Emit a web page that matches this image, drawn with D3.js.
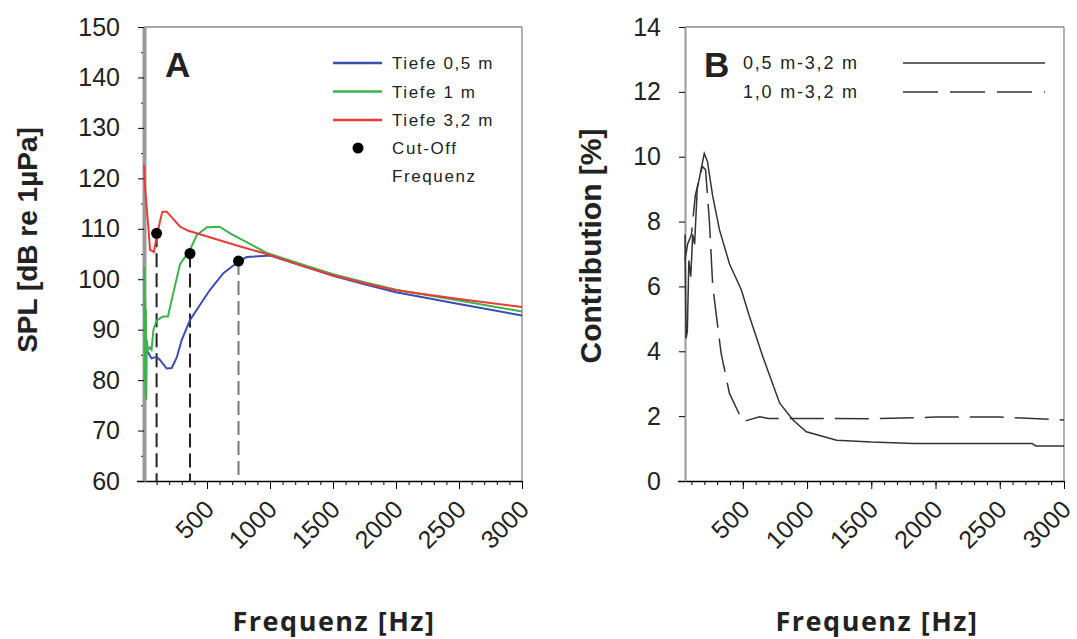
<!DOCTYPE html>
<html>
<head>
<meta charset="utf-8">
<script src="https://cdnjs.cloudflare.com/ajax/libs/d3/7.8.5/d3.min.js"></script>
<style>
body { margin: 0; background: #fff; }
text { font-family: "Liberation Sans", Arial, sans-serif; fill: #222; }
.tick text { font-size: 25px; fill: #222; }
.ttl { font-weight: bold; }
.freq { font-family: "Open Sans", sans-serif; font-weight: bold; font-size: 27px; letter-spacing: 1.5px; }
</style>
</head>
<body>
<script>
var width = 1077, height = 639;

// Panel A: SPL per depth
var freq05 = [8, 20, 60, 100, 127, 180, 220, 260, 300, 365, 420, 524, 630, 750, 815, 950, 1000, 1250, 1500, 1750, 2000, 2500, 3000];
var spl05  = [88.5, 86, 84.3, 84.6, 84, 82.3, 82.4, 84.5, 88, 91.9, 94, 97.9, 101.2, 103.5, 104.4, 104.6, 104.7, 102.7, 100.7, 99.0, 97.4, 95.1, 92.8];
var freq1  = [2, 6, 9, 12, 15, 18, 22, 30, 45, 60, 75, 100, 150, 190, 230, 286, 365, 420, 500, 600, 690, 975, 1250, 1500, 1750, 2000, 2500, 3000];
var spl1   = [102.5, 80, 96, 77, 94, 76, 88, 86, 86.5, 86, 90, 91.8, 92.6, 92.6, 97, 103, 105.8, 108.8, 110.3, 110.4, 109, 105.2, 103.0, 101.0, 99.4, 97.9, 95.8, 93.6];
var freq32 = [1, 10, 34, 48, 79, 100, 127, 146, 180, 286, 352, 750, 1000, 1250, 1500, 1750, 2000, 2500, 3000];
var spl32  = [122.6, 117.7, 110.4, 105.8, 105.4, 108.4, 111.5, 113.4, 113.4, 110.4, 109.6, 106.6, 104.8, 102.7, 100.8, 99.2, 97.8, 96.1, 94.5];
var cutFreq = [100, 365, 750];
var cutSpl  = [109.1, 105.1, 103.6];
var cutColor = ["#222", "#222", "#777"];

// Panel B: contribution
var freqB1 = [50, 58, 68, 80, 95, 110, 125, 145, 175, 200, 225, 265, 318, 396, 488, 552, 656, 787, 891, 995, 1230, 1500, 1830, 2750, 2780, 3000];
var contB1 = [7.6, 4.4, 4.6, 6.8, 6.3, 7.6, 7.3, 9.0, 9.6, 10.1, 9.85, 8.8, 7.75, 6.7, 5.9, 5.07, 3.83, 2.4, 1.88, 1.52, 1.26, 1.2, 1.16, 1.16, 1.08, 1.08];
var freqB2 = [50, 70, 100, 130, 160, 185, 210, 240, 266, 331, 396, 500, 630, 700, 1500, 2000, 2500, 3000];
var contB2 = [6.8, 7.3, 7.6, 8.8, 9.3, 9.7, 9.6, 8.0, 6.0, 3.94, 2.7, 1.83, 1.98, 1.93, 1.92, 1.97, 1.97, 1.88];

var xTicks = [500, 1000, 1500, 2000, 2500, 3000];
var yTicksA = d3.range(60, 151, 10);
var yTicksB = d3.range(0, 15, 2);

var svg = d3.select("body").append("svg")
    .attr("width", width)
    .attr("height", height);

function zip(a, b) { return a.map(function(d, i) { return [d, b[i]]; }); }

function drawPanel(o) {
    var g = svg.append("g");
    var x = d3.scaleLinear().domain(o.xDomain).range([o.left, o.right]);
    var y = d3.scaleLinear().domain(o.yDomain).range([481, 27]);

    // frame
    g.append("line").attr("x1", o.left).attr("x2", o.right).attr("y1", 27).attr("y2", 27)
        .attr("stroke", "#888").attr("stroke-width", 1.3);
    g.append("line").attr("x1", o.right).attr("x2", o.right).attr("y1", 27).attr("y2", 481)
        .attr("stroke", "#888").attr("stroke-width", 1.3);

    // minor x ticks
    g.append("g").attr("transform", "translate(0,481)")
        .call(d3.axisBottom(x).tickValues(d3.range(100, 3001, 100)).tickSize(4).tickFormat(""))
        .call(function(s) { s.select(".domain").remove(); });
    // major x ticks
    var xa = g.append("g").attr("transform", "translate(0,481)")
        .call(d3.axisBottom(x).tickValues(xTicks).tickSize(8).tickSizeOuter(0).tickFormat(d3.format("d")));
    xa.select(".domain").attr("d", "M" + (o.left - 7) + ",0.5H" + o.right).attr("stroke-width", 1.5);
    xa.selectAll(".tick text")
        .attr("text-anchor", "end")
        .attr("dy", null).attr("y", null)
        .attr("transform", "translate(8,30) rotate(-45)");

    // minor y ticks
    if (o.yMinor) {
        g.append("g").attr("transform", "translate(" + o.left + ",0)")
            .call(d3.axisLeft(y).tickValues(o.yMinor).tickSize(3).tickFormat(""))
            .call(function(s) { s.select(".domain").remove(); });
    }
    var ya = g.append("g").attr("transform", "translate(" + o.left + ",0)")
        .call(d3.axisLeft(y).tickValues(o.yTicks).tickSize(6).tickSizeOuter(0).tickPadding(18));
    ya.select(".domain").attr("stroke", "#999").attr("stroke-width", o.axisW);

    o.x = x; o.y = y; o.g = g;
    return o;
}

// ---------- Panel A ----------
var A = drawPanel({left: 144, right: 522, xDomain: [0, 3000], yDomain: [60, 150],
    yTicks: yTicksA, yMinor: d3.range(65, 150, 10), axisW: 4});

var lineA = d3.line().x(function(d) { return A.x(d[0]); }).y(function(d) { return A.y(d[1]); });

A.g.selectAll(".cut").data(cutFreq).enter().append("line")
    .attr("x1", function(d) { return A.x(d); })
    .attr("x2", function(d) { return A.x(d); })
    .attr("y1", function(d, i) { return A.y(cutSpl[i]); })
    .attr("y2", 481)
    .attr("stroke", function(d, i) { return cutColor[i]; })
    .attr("stroke-width", 2)
    .attr("stroke-dasharray", "14,6");

var seriesA = [
    {name: "Tiefe 0,5 m", color: "#3a4db3", pts: zip(freq05, spl05)},
    {name: "Tiefe 1  m", color: "#3cb34a", pts: zip(freq1, spl1)},
    {name: "Tiefe 3,2 m", color: "#ea3b36", pts: zip(freq32, spl32)}
];

A.g.selectAll(".sa").data(seriesA).enter().append("path")
    .attr("d", function(d) { return lineA(d.pts); })
    .attr("fill", "none")
    .attr("stroke", function(d) { return d.color; })
    .attr("stroke-width", 2);

A.g.selectAll(".dot").data(cutFreq).enter().append("circle")
    .attr("cx", function(d) { return A.x(d); })
    .attr("cy", function(d, i) { return A.y(cutSpl[i]); })
    .attr("r", 5.5)
    .attr("fill", "#000");

// legend A
var legA = svg.append("g");
seriesA.forEach(function(s, i) {
    var yy = 63 + i * 28.5;
    legA.append("line").attr("x1", 333).attr("x2", 382).attr("y1", yy).attr("y2", yy)
        .attr("stroke", s.color).attr("stroke-width", 2.5);
    legA.append("text").attr("x", 392).attr("y", yy + 6)
        .style("font-size", "17px").style("letter-spacing", "1.6px").text(s.name);
});
legA.append("circle").attr("cx", 358).attr("cy", 148).attr("r", 5.5).attr("fill", "#000");
legA.append("text").attr("x", 392).attr("y", 154).style("font-size", "17px").style("letter-spacing", "1.6px").text("Cut-Off");
legA.append("text").attr("x", 392).attr("y", 182).style("font-size", "17px").style("letter-spacing", "1.6px").text("Frequenz");

svg.append("text").attr("class", "ttl").attr("x", 165).attr("y", 77)
    .style("font-size", "35px").text("A");

svg.append("text").attr("class", "ttl")
    .attr("transform", "translate(37,240) rotate(-90)")
    .attr("text-anchor", "middle")
    .style("font-size", "28px")
    .text("SPL [dB re 1µPa]");
svg.append("text").attr("class", "freq")
    .attr("x", 334).attr("y", 631).attr("text-anchor", "middle")
    .text("Frequenz [Hz]");

// ---------- Panel B ----------
var B = drawPanel({left: 685, right: 1064, xDomain: [50, 3000], yDomain: [0, 14],
    yTicks: yTicksB, yMinor: null, axisW: 2});

var lineB = d3.line().x(function(d) { return B.x(d[0]); }).y(function(d) { return B.y(d[1]); });

var seriesB = [
    {name: "0,5 m-3,2 m", dash: null, pts: zip(freqB1, contB1)},
    {name: "1,0 m-3,2 m", dash: "34,11", pts: zip(freqB2, contB2)}
];

B.g.selectAll(".sb").data(seriesB).enter().append("path")
    .attr("d", function(d) { return lineB(d.pts); })
    .attr("fill", "none")
    .attr("stroke", "#333")
    .attr("stroke-width", 1.5)
    .attr("stroke-dasharray", function(d) { return d.dash; });

var legB = svg.append("g");
seriesB.forEach(function(s, i) {
    var yy = 63 + i * 29;
    legB.append("text").attr("x", 743).attr("y", yy + 6)
        .style("font-size", "18px").style("letter-spacing", "1.8px").text(s.name);
    legB.append("line").attr("x1", 903).attr("x2", 1045).attr("y1", yy).attr("y2", yy)
        .attr("stroke", "#333").attr("stroke-width", 1.5)
        .attr("stroke-dasharray", s.dash ? "35,12" : null);
});

svg.append("text").attr("class", "ttl").attr("x", 704).attr("y", 77)
    .style("font-size", "35px").text("B");

svg.append("text").attr("class", "ttl")
    .attr("transform", "translate(601,246) rotate(-90)")
    .attr("text-anchor", "middle")
    .style("font-size", "30px")
    .text("Contribution [%]");
svg.append("text").attr("class", "freq")
    .attr("x", 877).attr("y", 631).attr("text-anchor", "middle")
    .text("Frequenz [Hz]");
</script>
</body>
</html>
